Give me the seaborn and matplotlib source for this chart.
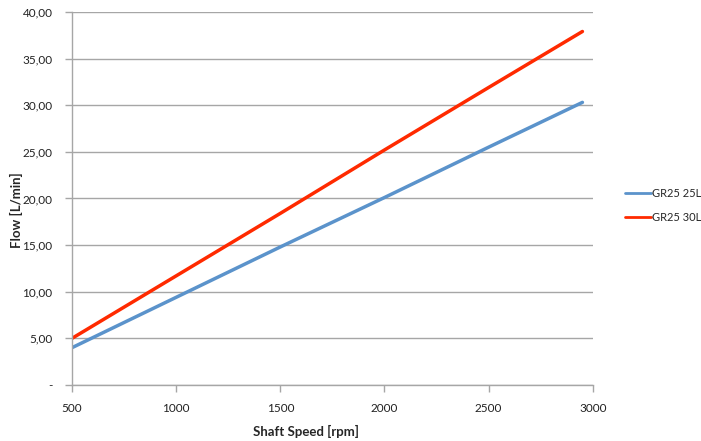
import seaborn as sns
import numpy as np
import pandas as pd
import matplotlib.pyplot as plt
from matplotlib.ticker import FuncFormatter

# values
shaft_speed = [500, 1000, 1500, 2000, 2500, 2950]
flow_25l = [4.0, 9.4, 14.8, 20.1, 25.5, 30.3]
flow_30l = [5.0, 11.7, 18.4, 25.2, 31.9, 37.9]
series_names = ["GR25 25L", "GR25 30L"]
x_ticks = [500, 1000, 1500, 2000, 2500, 3000]
y_ticks = [0, 5, 10, 15, 20, 25, 30, 35, 40]

df = pd.DataFrame({
    "Shaft Speed": shaft_speed * 2,
    "Flow": flow_25l + flow_30l,
    "Serie": [series_names[0]] * len(shaft_speed) + [series_names[1]] * len(shaft_speed),
})

sns.set_style("white")
plt.rcParams["font.family"] = ["Lato", "DejaVu Sans"]

fig = plt.figure(figsize=(7.01, 4.41), dpi=100)
ax = fig.add_axes([0.1027, 0.127, 0.743, 0.846])

sns.lineplot(
    data=df, x="Shaft Speed", y="Flow", hue="Serie",
    palette=["#5b93cb", "#ff2a00"], linewidth=2.5, ax=ax,
)

grid_col = "#a6a6a6"
ax.set_xlim(500, 3000)
ax.set_ylim(0, 40)
ax.set_xticks(x_ticks)
ax.set_yticks(y_ticks)
ax.yaxis.grid(True, color=grid_col, linewidth=1)
ax.xaxis.grid(False)
ax.set_axisbelow(True)

def fmt_y(v, pos):
    if v == 0:
        return "-"
    return f"{v:.2f}".replace(".", ",")

ax.yaxis.set_major_formatter(FuncFormatter(fmt_y))

for s in ["top", "right"]:
    ax.spines[s].set_visible(False)
for s in ["left", "bottom"]:
    ax.spines[s].set_color(grid_col)
    ax.spines[s].set_linewidth(1)

ax.tick_params(axis="both", which="major", direction="out", length=5,
               width=1, color=grid_col, labelsize=8.5, labelcolor="#222222",
               left=True, bottom=True)
ax.tick_params(axis="x", pad=8)
ax.tick_params(axis="y", pad=9)

ax.set_xlabel("Shaft Speed [rpm]", fontsize=9.5, fontweight="bold")
ax.set_ylabel("Flow [L/min]", fontsize=9.5, fontweight="bold")
ax.xaxis.set_label_coords(0.449, -0.108)
ax.yaxis.set_label_coords(-0.094, 0.469)

leg = ax.legend(title=None, frameon=False, fontsize=8, loc="center left",
                bbox_to_anchor=(0.8916, 0.534), bbox_transform=fig.transFigure,
                borderaxespad=0, borderpad=0, handlelength=2.3,
                handletextpad=0.15, labelspacing=1.2)
for line in leg.get_lines():
    line.set_linewidth(2)

plt.savefig("out.png", dpi=100)
plt.close()
